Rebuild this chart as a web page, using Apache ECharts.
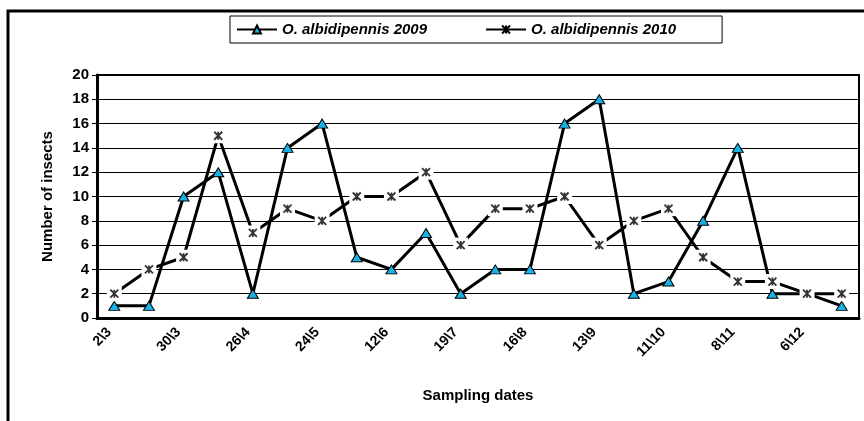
<!DOCTYPE html>
<html>
<head>
<meta charset="utf-8">
<script src="https://cdn.jsdelivr.net/npm/echarts@6/dist/echarts.min.js"></script>
<style>
    html, body { margin: 0; padding: 0; background: #fff; }
    #chart { width: 864px; height: 421px; }
</style>
</head>
<body>
<div id="chart"></div>
<script>
    // sampling dates (only every other one is labelled in the figure)
    var dates = ['2\\3', '', '30\\3', '', '26\\4', '', '24\\5', '', '12\\6', '', '19\\7', '',
                 '16\\8', '', '13\\9', '', '11\\10', '', '8\\11', '', '6\\12', ''];
    var insects2009 = [1, 1, 10, 12, 2, 14, 16, 5, 4, 7, 2, 4, 4, 16, 18, 2, 3, 8, 14, 2, 2, 1];
    var insects2010 = [2, 4, 5, 15, 7, 9, 8, 10, 10, 12, 6, 9, 9, 10, 6, 8, 9, 5, 3, 3, 2, 2];
    var yTicks = [0, 2, 4, 6, 8, 10, 12, 14, 16, 18, 20];

    var name2009 = 'O. albidipennis 2009';
    var name2010 = 'O. albidipennis 2010';
    var font = 'Liberation Sans, Arial, sans-serif';
    var star = 'path://M0,0L10,10M10,0L0,10M5,0L5,10';

    var chart = echarts.init(document.getElementById('chart'));
    chart.setOption({
        animation: false,
        graphic: [{
            type: 'rect',
            shape: { x: 8, y: 11, width: 900, height: 500 },
            style: { fill: 'none', stroke: '#000', lineWidth: 3 },
            silent: true
        }],
        legend: {
            data: [name2009, name2010],
            left: 230,
            top: 16,
            padding: [6, 46, 6, 6],
            borderColor: '#000',
            borderWidth: 1,
            itemWidth: 40,
            itemHeight: 10,
            itemGap: 58,
            textStyle: {
                fontFamily: font,
                fontSize: 15,
                fontWeight: 'bold',
                fontStyle: 'italic',
                color: '#000'
            }
        },
        grid: {
            left: 97,
            right: 5,
            top: 75,
            bottom: 103,
            show: true,
            borderColor: '#000',
            borderWidth: 2
        },
        xAxis: {
            type: 'category',
            data: dates,
            name: 'Sampling dates',
            nameLocation: 'middle',
            nameGap: 70,
            nameTextStyle: { fontFamily: font, fontSize: 15, fontWeight: 'bold', color: '#000' },
            axisLine: { lineStyle: { color: '#000', width: 3 } },
            axisTick: { interval: 0, length: 5, lineStyle: { color: '#000', width: 1 } },
            axisLabel: {
                interval: 0,
                rotate: 45,
                margin: 7,
                padding: [0, 7, 0, 0],
                fontFamily: font,
                fontSize: 14,
                fontWeight: 'bold',
                color: '#000'
            }
        },
        yAxis: {
            type: 'value',
            min: yTicks[0],
            max: yTicks[yTicks.length - 1],
            interval: 2,
            name: 'Number of insects',
            nameLocation: 'middle',
            nameGap: 42,
            nameTextStyle: { fontFamily: font, fontSize: 15, fontWeight: 'bold', color: '#000' },
            axisLine: { show: true, lineStyle: { color: '#000', width: 3 } },
            axisTick: { show: true, length: 5, lineStyle: { color: '#000', width: 1 } },
            axisLabel: { margin: 8, fontFamily: font, fontSize: 15, fontWeight: 'bold', color: '#000' },
            splitLine: { lineStyle: { color: '#000', width: 1 } }
        },
        series: [
            {
                name: name2009,
                type: 'line',
                data: insects2009,
                z: 2,
                symbol: 'triangle',
                symbolSize: [11, 9],
                itemStyle: { color: '#19b2e6', borderColor: '#000', borderWidth: 1 },
                lineStyle: { color: '#000', width: 3 }
            },
            {
                name: name2010,
                type: 'line',
                data: insects2010,
                z: 2,
                symbol: star,
                symbolSize: 7,
                itemStyle: { color: '#000', borderColor: '#000', borderWidth: 1.5 },
                lineStyle: { color: '#000', width: 3 }
            },
            {
                // white marker background that breaks the lines around the 2010 markers
                name: 'bg2010',
                type: 'scatter',
                data: insects2010,
                z: 5,
                silent: true,
                symbol: 'rect',
                symbolSize: 15,
                itemStyle: { color: '#ffffff', opacity: 1, borderWidth: 0 }
            },
            {
                name: 'fg2010',
                type: 'scatter',
                data: insects2010,
                z: 6,
                silent: true,
                symbol: star,
                symbolSize: 8,
                itemStyle: { color: '#000', borderColor: '#000', borderWidth: 1.8 }
            }
        ]
    });
</script>
</body>
</html>
